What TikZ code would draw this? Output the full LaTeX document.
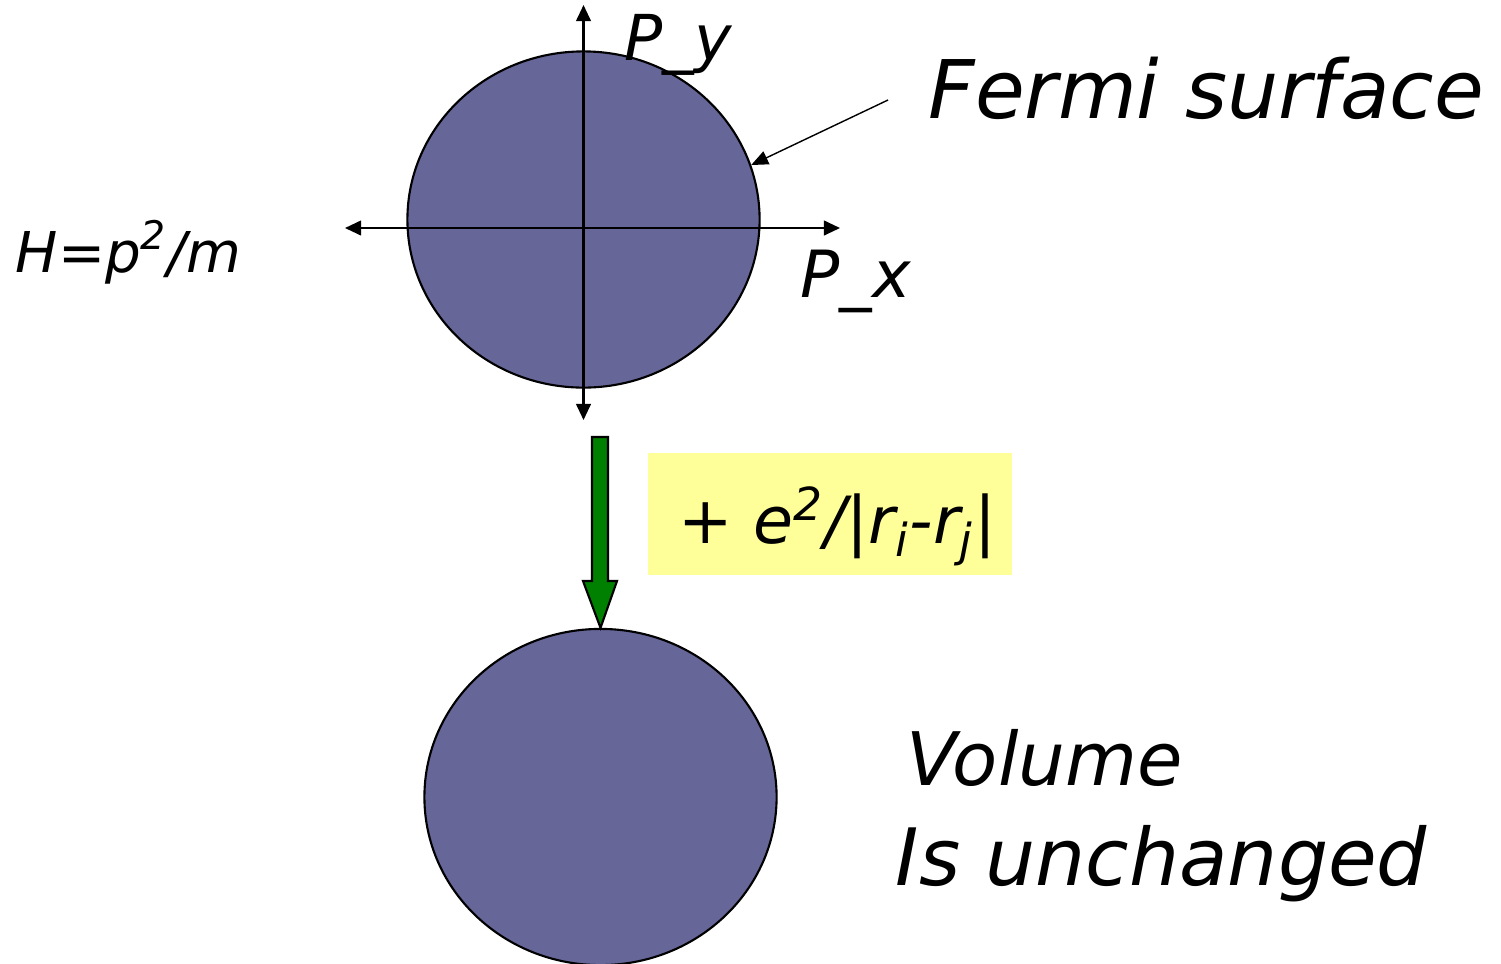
\documentclass[tikz,border=0pt]{standalone}
\usepackage{fontspec}
\setmainfont{DejaVu Sans}
\usetikzlibrary{arrows.meta, shapes.geometric}
\definecolor{fermiblue}{RGB}{102,102,153}
\definecolor{notegold}{RGB}{255,255,153}
\definecolor{flowgreen}{RGB}{0,128,0}
\tikzset{
  sea/.style   = {ellipse, draw=black, line width=0.6pt, fill=fermiblue, minimum width=3.52cm, minimum height=3.36cm, inner sep=0pt},
  axis/.style  = {{Triangle[length=4.6pt,width=4.2pt]}-{Triangle[length=4.6pt,width=4.2pt]}, line width=0.6pt},
  ptr/.style   = {-{Triangle[length=4.8pt,width=4pt]}, line width=0.4pt},
  hand/.style  = {font=\itshape, inner sep=0pt, anchor=base west},
  note/.style  = {rectangle, fill=notegold, minimum width=3.64cm, minimum height=1.22cm, inner sep=0pt},
  flow/.style  = {draw=black, line width=0.6pt, fill=flowgreen},
}

\begin{document}
\begin{tikzpicture}[x=0.01cm, y=-0.01cm]
    \useasboundingbox (0,0) rectangle (1501,963);
    \clip (0,0) rectangle (1501,963);

    % free electron sea
    \node[sea] (fs1) at (583.5,219.5) {};
    \node[sea] (fs2) at (600.5,797) {};

    % momentum axes
    \coordinate (pxl) at (345,228);
    \coordinate (pxr) at (840,228);
    \coordinate (pyt) at (583.5,5);
    \coordinate (pyb) at (583.5,420);
    \draw[axis] (pxl) -- (pxr);
    \draw[axis] (pyb) -- (pyt);

    % labels
    \node[hand, font=\itshape\fontsize{18}{20}\selectfont] (py) at (624,60) {P\_y};
    \node[hand, font=\itshape\fontsize{18.5}{20}\selectfont] (px) at (800,297) {P\_x};
    \node[hand, font=\itshape\fontsize{16}{20}\selectfont] (ham) at (15,272) {H=p\textsuperscript{2}/m};
    \node[hand, font=\itshape\fontsize{23}{26}\selectfont] (fermi) at (928,118) {Fermi surface};
    \node[hand, font=\itshape\fontsize{21}{24}\selectfont] (vol) at (906,785) {Volume};
    \node[hand, font=\itshape\fontsize{22.5}{24}\selectfont] (same) at (895,885) {Is unchanged};

    % pointer to the surface
    \coordinate (ftail) at (888,100);
    \draw[ptr] (ftail) -- (fs1.18);

    % interaction switched on
    \node[note] (coul) at (830,514) {};
    \node[hand, font=\itshape\fontsize{18.5}{22}\selectfont] (coultxt) at (678,543)
      {+ e\textsuperscript{2}/|r\textsubscript{i}-r\textsubscript{j}|};
    \draw[flow] (592,437) -- (608,437) -- (608,581) -- (617,581) -- (fs2.north)
      -- (583,581) -- (592,581) -- cycle;
  \end{tikzpicture}
\end{document}
